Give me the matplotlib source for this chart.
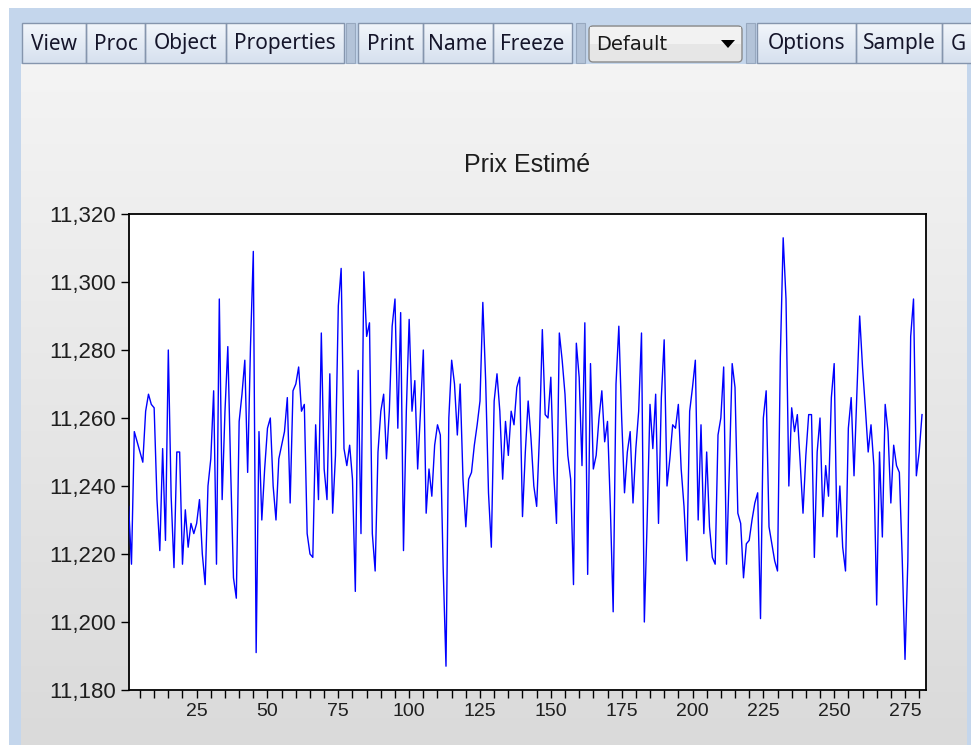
import numpy as np
import matplotlib
matplotlib.use("Agg")
import matplotlib.pyplot as plt
from matplotlib.patches import Rectangle, FancyBboxPatch, Polygon
from matplotlib.ticker import FuncFormatter

# ---------------- data ----------------
title = "Prix Estimé"
prix = [
    11234, 11217, 11256, 11253, 11250, 11247, 11262, 11267, 11264, 11263,
    11236, 11221, 11251, 11224, 11280, 11237, 11216, 11250, 11250, 11217,
    11233, 11222, 11229, 11226, 11229, 11236, 11220, 11211, 11240, 11248,
    11268, 11217, 11295, 11236, 11262, 11281, 11245, 11213, 11207, 11259,
    11267, 11277, 11244, 11281, 11309, 11191, 11256, 11230, 11245, 11257,
    11260, 11240, 11230, 11248, 11252, 11256, 11266, 11235, 11268, 11270,
    11275, 11262, 11264, 11226, 11220, 11219, 11258, 11236, 11285, 11245,
    11236, 11273, 11232, 11249, 11293, 11304, 11251, 11246, 11252, 11242,
    11209, 11274, 11226, 11303, 11284, 11288, 11226, 11215, 11250, 11262,
    11267, 11248, 11262, 11287, 11295, 11257, 11291, 11221, 11262, 11289,
    11262, 11271, 11245, 11262, 11280, 11232, 11245, 11237, 11252, 11258,
    11255, 11216, 11187, 11260, 11277, 11270, 11255, 11270, 11242, 11228,
    11242, 11244, 11252, 11258, 11265, 11294, 11271, 11238, 11222, 11265,
    11273, 11262, 11242, 11259, 11249, 11262, 11258, 11269, 11272, 11231,
    11250, 11265, 11254, 11240, 11234, 11255, 11286, 11261, 11260, 11272,
    11244, 11229, 11285, 11277, 11267, 11249, 11242, 11211, 11282, 11272,
    11246, 11288, 11214, 11276, 11245, 11249, 11260, 11268, 11253, 11259,
    11234, 11203, 11270, 11287, 11260, 11238, 11250, 11256, 11235, 11251,
    11262, 11285, 11200, 11230, 11264, 11251, 11267, 11229, 11266, 11283,
    11240, 11248, 11258, 11257, 11264, 11245, 11234, 11218, 11262, 11269,
    11277, 11230, 11258, 11226, 11250, 11228, 11219, 11217, 11255, 11260,
    11275, 11217, 11245, 11276, 11269, 11232, 11229, 11213, 11223, 11224,
    11230, 11235, 11238, 11201, 11260, 11268, 11228, 11223, 11218, 11215,
    11278, 11313, 11295, 11240, 11263, 11256, 11261, 11247, 11232, 11249,
    11261, 11261, 11219, 11250, 11260, 11231, 11246, 11237, 11266, 11276,
    11225, 11240, 11222, 11215, 11257, 11266, 11243, 11267, 11290, 11275,
    11263, 11250, 11258, 11246, 11205, 11250, 11225, 11264, 11256, 11235,
    11252, 11246, 11244, 11219, 11189, 11218, 11284, 11295, 11243, 11250,
    11261,
]
obs = np.arange(1, len(prix) + 1)
y_ticks = [11180, 11200, 11220, 11240, 11260, 11280, 11300, 11320]
x_labels = [25, 50, 75, 100, 125, 150, 175, 200, 225, 250, 275]
toolbar_buttons = ["View", "Proc", "Object", "Properties", "Print", "Name",
                   "Freeze", "Options", "Sample", "G"]
combo_text = "Default"

# ---------------- figure ----------------
W, H = 971, 745
fig = plt.figure(figsize=(W / 100, H / 100), dpi=100)
bg = fig.add_axes([0, 0, 1, 1])
bg.set_xlim(0, W)
bg.set_ylim(H, 0)
bg.axis("off")

blue = "#C4D6EC"
bg.add_patch(Rectangle((0, 0), W, H, facecolor="white", edgecolor="none", zorder=0))
bg.add_patch(Rectangle((9, 8), W - 9, H - 8, facecolor=blue, edgecolor="none", zorder=1))

# content gradient
grad = np.linspace(0, 1, 256).reshape(-1, 1)
top_c = np.array([0.957, 0.957, 0.957])
bot_c = np.array([0.855, 0.855, 0.855])
img = top_c + (bot_c - top_c) * grad
img = np.repeat(img[:, None, :], 2, axis=1).reshape(256, 2, 3)
bg.imshow(img, extent=[21, 967, H, 64], aspect="auto", zorder=2, interpolation="bilinear")

ui_font = ["Noto Sans", "DejaVu Sans"]

def button(x0, x1, text, y0=23, y1=63):
    r = Rectangle((x0, y0), x1 - x0, y1 - y0, facecolor="none",
                  edgecolor="#8595AD", linewidth=1.0, zorder=4)
    bg.add_patch(r)
    g = np.linspace(0, 1, 64).reshape(-1, 1)
    c0 = np.array([0.95, 0.965, 0.985])
    c1 = np.array([0.84, 0.88, 0.935])
    im = c0 + (c1 - c0) * g
    im = np.repeat(im[:, None, :], 2, axis=1)
    bg.imshow(im, extent=[x0, x1, y1, y0], aspect="auto", zorder=3)
    bg.text((x0 + x1) / 2, (y0 + y1) / 2 + 1, text, ha="center", va="center",
            fontsize=15, color="#15152A", family=ui_font, zorder=5)

edges = [(22, 86), (86, 145), (145, 226), (226, 344),
         (358, 423), (423, 493), (493, 572),
         (757, 856), (856, 942), (942, 975)]
for (a, b), t in zip(edges, toolbar_buttons):
    button(a, b, t)

# grips / separators
for gx in (346, 576, 746):
    bg.add_patch(Rectangle((gx, 23), 9, 40, facecolor="#B3C3D8",
                           edgecolor="#97A8BF", linewidth=0.8, zorder=3))

# combo box
cb = FancyBboxPatch((589, 26), 153, 36, boxstyle="round,pad=0,rounding_size=4",
                    facecolor="#E6E6E6", edgecolor="#8A8A8A", linewidth=1.0, zorder=4)
bg.add_patch(cb)
bg.add_patch(Rectangle((590, 27), 151, 17, facecolor="#F2F2F2", edgecolor="none", zorder=4))
bg.text(596, 44, combo_text, ha="left", va="center", fontsize=14,
        color="#1A1A1A", family=["Liberation Sans Narrow", "DejaVu Sans"], zorder=5)
bg.add_patch(Polygon([[721, 40], [735, 40], [728, 48]], closed=True,
                     facecolor="black", edgecolor="none", zorder=5))

# ---------------- plot ----------------
ax = fig.add_axes([128.5 / W, (H - 690) / H, (925.7 - 128.5) / W, (690 - 214) / H])
ax.set_facecolor("white")
ax.plot(obs, prix, color="#0000FF", linewidth=1.0, zorder=3)
ax.set_xlim(0.95, 282.3)
ax.set_ylim(11180, 11320)
ax.set_yticks(y_ticks)
ax.yaxis.set_major_formatter(FuncFormatter(lambda v, p: f"{int(v):,}"))
xt = list(range(5, 282, 5))
ax.set_xticks(xt)
ax.set_xticklabels([str(t) if t in x_labels else "" for t in xt])
ax.tick_params(axis="both", direction="out", length=6, width=1.0, color="black",
               labelsize=14, labelcolor="#1E1E1E", pad=3)
ax.tick_params(axis="y", labelsize=16)
for lab in ax.get_xticklabels() + ax.get_yticklabels():
    lab.set_family(["Liberation Sans", "DejaVu Sans"])
for s in ax.spines.values():
    s.set_linewidth(1.3)
    s.set_color("black")
ax.set_title(title, fontsize=18, family=["Liberation Sans", "DejaVu Sans"],
             color="#1E1E1E", pad=30)

fig.savefig("out.png", dpi=100)
